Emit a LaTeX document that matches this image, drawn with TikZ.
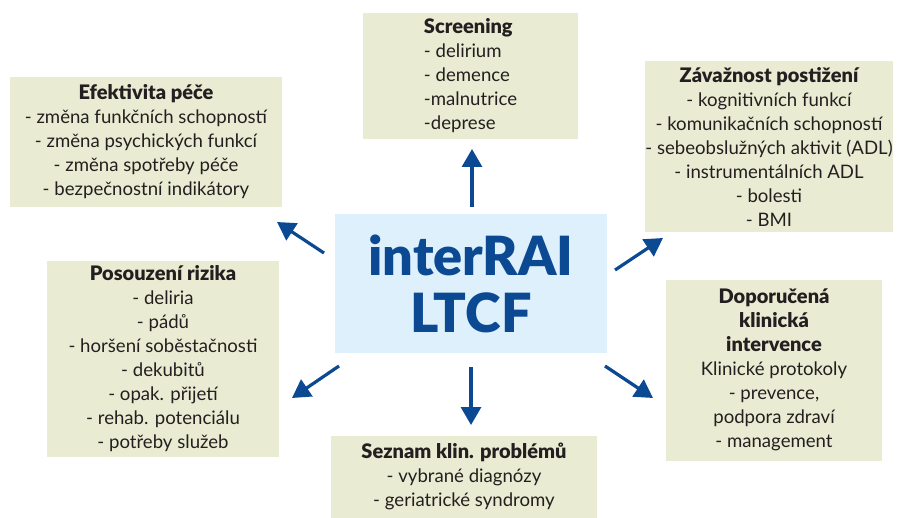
\documentclass[tikz,border=0pt]{standalone}
\usepackage{fontspec}
\setmainfont{Lato}
\newfontfamily\heavy{Lato Black}
\usetikzlibrary{arrows.meta}
\definecolor{boxgreen}{HTML}{E9ECD2}
\definecolor{raibg}{HTML}{DDF0FB}
\definecolor{raiblue}{HTML}{0B4A93}
\definecolor{textdark}{HTML}{231F20}
\newcommand{\ttl}[1]{{\heavy\fontsize{10}{12}\selectfont #1}}
\tikzset{
  box/.style={fill=boxgreen,inner sep=0pt,align=center,text=textdark,font=\fontsize{9.3}{12}\selectfont},
  hub/.style={fill=raibg,inner sep=0pt,align=center,text=raiblue,font=\heavy\fontsize{27}{28.5}\selectfont},
  arr/.style={draw=raiblue,line width=1.6pt,-{Triangle[length=9pt,width=10pt]}},
}
\begin{document}
\begin{tikzpicture}[x=0.5pt,y=-0.5pt]
    \useasboundingbox (0,0) rectangle (909,518);
    % boxes
    \node[hub,minimum width=136pt,minimum height=69.5pt] (rai) at (471,283.5) {interRAI\\LTCF};
    \node[box,align=left,minimum width=107.5pt,minimum height=63pt] (scr) at (470.5,76)
        {\ttl{Screening}\\- delirium\\- demence\\-malnutrice\\-deprese};
    \node[box,minimum width=136pt,minimum height=65pt] (efe) at (146,142)
        {\ttl{Efektivita péče}\\- změna funkčních schopností\\- změna psychických funkcí\\- změna spotřeby péče\\- bezpečnostní indikátory};
    \node[box,minimum width=124pt,minimum height=85.5pt] (zav) at (769,146.5)
        {\ttl{Závažnost postižení}\\- kognitivních funkcí\\- komunikačních schopností\\- sebeobslužných aktivit (ADL)\\- instrumentálních ADL\\- bolesti\\- BMI};
    \node[box,minimum width=116pt,minimum height=98pt] (pos) at (163,359)
        {\ttl{Posouzení rizika}\\- deliria\\- pádů\\- horšení soběstačnosti\\- dekubitů\\- opak. přijetí\\- rehab. potenciálu\\- potřeby služeb};
    \node[box,minimum width=108pt,minimum height=90.5pt] (dop) at (774,370)
        {\ttl{Doporučená}\\\ttl{klinická}\\\ttl{intervence}\\Klinické protokoly\\- prevence,\\podpora zdraví\\- management};
    \node[box,minimum width=133pt,minimum height=41pt] (sez) at (464,476.5)
        {\ttl{Seznam klin. problémů}\\- vybrané diagnózy\\- geriatrické syndromy};
    % arrow ends
    \coordinate (upA) at (472,207);  \coordinate (upB) at (472,149);
    \coordinate (ulA) at (324,253);  \coordinate (ulB) at (277,222);
    \coordinate (urA) at (615,270);  \coordinate (urB) at (663,238);
    \coordinate (llA) at (339,366);  \coordinate (llB) at (292,398);
    \coordinate (dnA) at (471,367);  \coordinate (dnB) at (471,425);
    \coordinate (lrA) at (605,366);  \coordinate (lrB) at (653,398);
    \foreach \a in {up,ul,ur,ll,dn,lr}
        \draw[arr] (\a A) -- (\a B);
\end{tikzpicture}
\end{document}
